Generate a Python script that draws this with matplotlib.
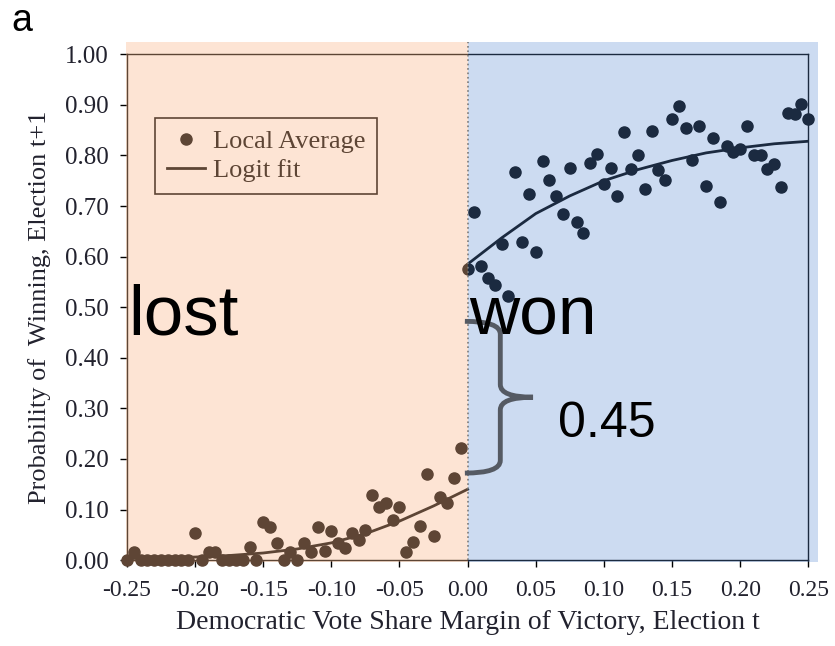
import numpy as np
import matplotlib
matplotlib.use("Agg")
import matplotlib.pyplot as plt
from matplotlib.patches import Rectangle, PathPatch
from matplotlib.path import Path

plt.rcParams['axes.unicode_minus'] = False

# local averages of winning at t+1, bins of 0.005 in the vote margin
margin_lost = np.linspace(-0.25, -0.005, 50)
win_lost = [0.0, 0.016, 0.0, 0.0, 0.0, 0.0, 0.0, 0.0, 0.0, 0.0,
            0.053, 0.0, 0.016, 0.016, 0.0, 0.0, 0.0, 0.0, 0.026, 0.0,
            0.075, 0.065, 0.034, 0.0, 0.016, 0.0, 0.033, 0.016, 0.066, 0.018,
            0.058, 0.033, 0.023, 0.053, 0.040, 0.060, 0.128, 0.105, 0.112, 0.079,
            0.105, 0.016, 0.036, 0.067, 0.170, 0.047, 0.125, 0.112, 0.162, 0.221]

margin_won = np.linspace(0.0, 0.25, 51)
win_won = [0.575,
           0.688, 0.581, 0.557, 0.543, 0.625, 0.522, 0.767, 0.628, 0.723, 0.609,
           0.788, 0.751, 0.719, 0.684, 0.775, 0.668, 0.646, 0.785, 0.802, 0.743,
           0.775, 0.719, 0.846, 0.773, 0.800, 0.733, 0.848, 0.771, 0.751, 0.873,
           0.897, 0.854, 0.790, 0.858, 0.739, 0.834, 0.708, 0.818, 0.806, 0.812,
           0.858, 0.800, 0.800, 0.773, 0.783, 0.737, 0.883, 0.881, 0.901, 0.873]

# logit fit on each side of the cutoff
fit_x_lost = [-0.25, -0.225, -0.20, -0.175, -0.15, -0.125, -0.10, -0.075, -0.05, -0.025, 0.0]
fit_lost = [0.003, 0.004, 0.006, 0.009, 0.014, 0.022, 0.034, 0.052, 0.077, 0.107, 0.140]
fit_x_won = [0.0, 0.025, 0.05, 0.075, 0.10, 0.125, 0.15, 0.175, 0.20, 0.225, 0.25]
fit_won = [0.585, 0.637, 0.685, 0.720, 0.750, 0.772, 0.790, 0.805, 0.815, 0.823, 0.828]

yticks = np.arange(0, 1.01, 0.1)
xticks = np.arange(-0.25, 0.251, 0.05)

serif = 'Liberation Serif'
sans = 'Liberation Sans'
tick_color = '#22222e'
lost_tint = (250/255, 184/255, 141/255)
won_tint = (89/255, 138/255, 210/255)
lost_dot = '#5e4535'


def fmt(v):
    # avoid "-0.00" at the cutoff
    return '%.2f' % (0.0 if abs(v) < 1e-9 else v)


fig = plt.figure(figsize=(8.35, 6.46), dpi=100)
ax = fig.add_axes([0.152, 0.133, 0.816, 0.783])

# left dots sit above the tint so the ones on the floor keep their colour
ax.plot(margin_lost, win_lost, 'o', color=lost_dot, ms=8, clip_on=False,
        zorder=7, label='Local Average')
ax.plot(margin_won, win_won, 'o', color='black', ms=8, clip_on=False, zorder=3)
ax.plot(fit_x_lost, fit_lost, '-', color='black', lw=2, zorder=3, label='Logit fit')
ax.plot(fit_x_won, fit_won, '-', color='black', lw=2, zorder=3)

ax.set_xlim(-0.25, 0.25)
ax.set_ylim(0, 1)
ax.set_xticks(xticks)
ax.set_yticks(yticks)
ax.set_xticklabels([fmt(v) for v in xticks], fontsize=17, family=serif, color=tick_color)
ax.set_yticklabels([fmt(v) for v in yticks], fontsize=18, family=serif, color=tick_color)
ax.tick_params(direction='out', length=5, width=1, color='black')
ax.tick_params(axis='x', pad=9)
ax.tick_params(axis='y', pad=8)
for sp in ax.spines.values():
    sp.set_color('black')
    sp.set_linewidth(1)

ax.set_xlabel('Democratic Vote Share Margin of Victory, Election t',
              fontsize=20, family=serif, color=tick_color, labelpad=7)
ax.set_ylabel('Probability of  Winning, Election t+1',
              fontsize=19, family=serif, color=tick_color, labelpad=10)

leg = ax.legend(loc='upper left', bbox_to_anchor=(0.041, 0.874), borderaxespad=0,
                prop={'family': serif, 'size': 19}, frameon=True, fancybox=False,
                edgecolor='black', facecolor='white', framealpha=1, numpoints=1,
                handlelength=1.45, handletextpad=0.3, labelspacing=0.2, borderpad=0.45)
leg.get_frame().set_linewidth(1.2)
leg.legend_handles[0].set_color('black')
leg.set_zorder(5)

# tinted halves: lost (left) and won (right)
ax.add_patch(Rectangle((-0.2505, -0.003), 0.2505, 1.027, facecolor=lost_tint,
                       alpha=0.376, edgecolor='none', clip_on=False, zorder=6))
ax.add_patch(Rectangle((0.0, -0.003), 0.2573, 1.027, facecolor=won_tint,
                       alpha=0.305, edgecolor='none', clip_on=False, zorder=6))
ax.plot([0, 0], [0, 1.024], ls=':', color='#7a7a7a', lw=1.2, clip_on=False, zorder=7)

# curly brace marking the jump at the cutoff
b_top, b_mid, b_bot = 0.472, 0.322, 0.172
bx, tip = 0.024, 0.048
r = 0.025
verts = [(-0.002, b_top), (bx, b_top), (bx, b_top - r),
         (bx, b_mid + r),
         (bx, b_mid), (tip, b_mid),
         (bx, b_mid), (bx, b_mid - r),
         (bx, b_bot + r),
         (bx, b_bot), (-0.002, b_bot)]
codes = [Path.MOVETO, Path.CURVE3, Path.CURVE3,
         Path.LINETO,
         Path.CURVE3, Path.CURVE3,
         Path.CURVE3, Path.CURVE3,
         Path.LINETO,
         Path.CURVE3, Path.CURVE3]
ax.add_patch(PathPatch(Path(verts, codes), facecolor='none', edgecolor='#555a63',
                       lw=3.5, clip_on=False, zorder=8))

ax.text(-0.2492, 0.445, 'lost', fontsize=51, family=sans, va='baseline', ha='left', zorder=9)
ax.text(0.001, 0.445, 'won', fontsize=50, family=sans, va='baseline', ha='left', zorder=9)
ax.text(0.066, 0.243, '0.45', fontsize=36, family=sans, va='baseline', ha='left', zorder=9)

fig.text(0.014, 0.952, 'a', fontsize=27, family=sans, va='baseline', ha='left')

fig.savefig('out.png', dpi=100)
